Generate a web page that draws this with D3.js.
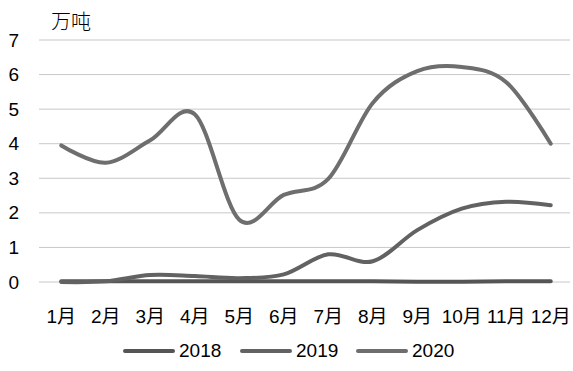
<!DOCTYPE html>
<html><head><meta charset="utf-8">
<script src="https://cdn.jsdelivr.net/npm/d3@7"></script>
<style>body{margin:0;background:#fff}svg{display:block}</style>
</head><body>
<script>
const months = ["1月","2月","3月","4月","5月","6月","7月","8月","9月","10月","11月","12月"];
const yTicks = [0,1,2,3,4,5,6,7];
const s2018 = [0.02,0.02,0.02,0.02,0.02,0.02,0.02,0.02,0.01,0.01,0.02,0.02];
const s2019 = [0.0,0.02,0.2,0.17,0.11,0.22,0.8,0.6,1.5,2.12,2.32,2.22];
const s2020 = [3.95,3.45,4.1,4.85,1.8,2.52,2.98,5.18,6.1,6.22,5.78,4.0];
const seriesNames = ["2018","2019","2020"];
const seriesData = [s2018, s2019, s2020];
const colors = ["#555555","#626262","#6e6e6e"];

const W = 573, H = 371;
const svg = d3.select("body").append("svg").attr("width", W).attr("height", H);
const font = "'Liberation Sans', Arial, sans-serif";

const x = d3.scaleBand().domain(months).range([39, 573]);
const y = d3.scaleLinear().domain([0,7]).range([282, 40]);

// gridlines
svg.append("g").selectAll("line").data(yTicks).join("line")
  .attr("x1", 39).attr("x2", 570)
  .attr("y1", d => y(d)).attr("y2", d => y(d))
  .attr("stroke", "#c8c8c8").attr("stroke-width", 1);

// y axis labels
const yAxis = d3.axisLeft(y).tickValues(yTicks).tickFormat(d3.format("d")).tickSize(0).tickPadding(0);
const ya = svg.append("g").attr("transform", "translate(19,0)").call(yAxis);
ya.select(".domain").remove();
ya.selectAll("text").attr("font-size", 19).attr("font-family", font).attr("fill", "#000");

// x axis labels
const xAxis = d3.axisBottom(x).tickSize(0).tickPadding(0);
const xa = svg.append("g").attr("transform", "translate(0,309)").call(xAxis);
xa.select(".domain").remove();
xa.selectAll("text").attr("font-size", 19).attr("font-family", "'Liberation Sans', 'Noto Sans CJK SC', sans-serif").attr("fill", "#000");

// title
svg.append("text").attr("x", 51).attr("y", 29).text("万吨")
  .attr("font-size", 20).attr("font-family", "'Noto Sans CJK SC', sans-serif").attr("font-weight", 300).attr("fill", "#000");

// lines
const line = d3.line()
  .x((d,i) => x(months[i]) + x.bandwidth()/2)
  .y(d => y(d))
  .curve(d3.curveCardinal.tension(0));
seriesData.forEach((s, k) => {
  svg.append("path").datum(s).attr("d", line)
    .attr("fill", "none").attr("stroke", colors[k]).attr("stroke-width", 4)
    .attr("stroke-linecap", "round").attr("stroke-linejoin", "round");
});

// legend
const legX = [125, 242, 358];
const lg = svg.append("g");
seriesNames.forEach((n, k) => {
  lg.append("line").attr("x1", legX[k]).attr("x2", legX[k] + 48)
    .attr("y1", 351).attr("y2", 351)
    .attr("stroke", colors[k]).attr("stroke-width", 4).attr("stroke-linecap", "round");
  lg.append("text").attr("x", legX[k] + 54).attr("y", 357).text(n)
    .attr("font-size", 19).attr("font-family", font).attr("fill", "#000");
});
</script>
</body></html>
